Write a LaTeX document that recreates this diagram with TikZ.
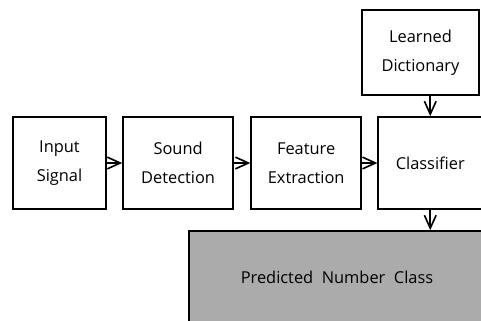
\documentclass[tikz,border=0pt]{standalone}
\usepackage{fontspec}
\setmainfont{Open Sans}
\usetikzlibrary{arrows.meta,positioning}
\definecolor{predgray}{RGB}{171,171,171}
\tikzset{
  blk/.style={draw, rectangle, minimum height=2.76cm, minimum width=3.3cm, align=center, font=\fontsize{14}{25}\selectfont, line width=1.5pt},
  arr/.style={-{Straight Barb[length=11pt, width=10pt]}, line width=1.4pt},
}
\begin{document}
\begin{tikzpicture}[node distance=0.5cm]
\useasboundingbox (0,0) rectangle (14.43,-9.6);
\clip (0,0) rectangle (14.43,-9.6);

\node[blk, minimum width=2.79cm] (input) at (1.785,-4.89) {Input\\Signal};
\node[blk, right=0.46cm of input] (sound) {Sound\\Detection};
\node[blk, right=0.49cm of sound] (feature) {Feature\\Extraction};
\node[blk, right=0.46cm of feature, minimum width=3.12cm] (clf) {Classifier};

\node[blk, minimum width=3.51cm, minimum height=2.55cm] (dict) at (12.615,-1.575)
  {Learned\\Dictionary};

\node[blk, minimum width=8.88cm, fill=predgray] (pred) at (10.11,-8.31)
  {Predicted\ \ Number\ \ Class};

\draw[arr] (input) -- (sound);
\draw[arr] (sound) -- (feature);
\draw[arr] (feature) -- (clf);
\draw[arr] (dict.south -| clf.north) -- (clf.north);
\draw[arr] (clf.south) -- (clf.south |- pred.north);

\end{tikzpicture}
\end{document}
